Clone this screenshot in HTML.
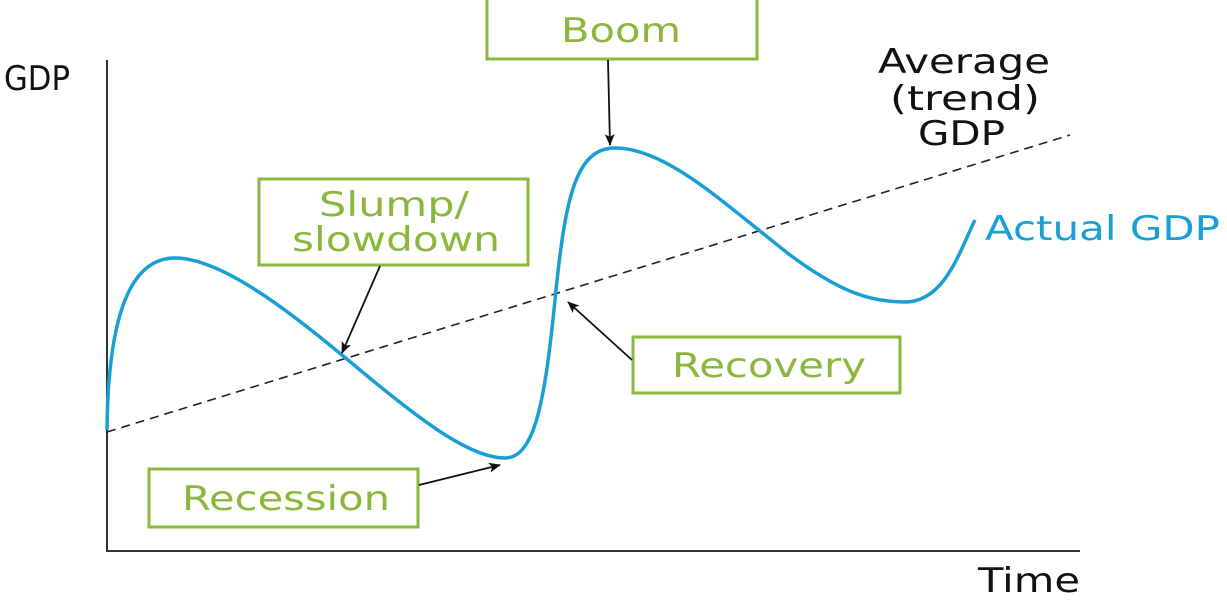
<!DOCTYPE html>
<html><head><style>
html,body{margin:0;padding:0;background:#fff;}
svg{display:block;}
text{font-family:"DejaVu Sans","Liberation Sans",sans-serif;}
</style></head><body>
<svg width="1227" height="601" viewBox="0 0 1227 601">
<defs><marker id="a" markerWidth="12" markerHeight="10" refX="11" refY="5" orient="auto" markerUnits="userSpaceOnUse"><path d="M0,0 L12,5 L0,10 L3,5 Z" fill="#111"/></marker></defs>
<line x1="107" y1="60" x2="107" y2="551" stroke="#333" stroke-width="2"/>
<line x1="106" y1="551" x2="1080" y2="551" stroke="#333" stroke-width="2"/>
<line x1="107" y1="432" x2="1070" y2="135" stroke="#222" stroke-width="1.6" stroke-dasharray="9,6"/>
<path d="M107,430 C108,330 125,258 175,258 C225,258 300,320 360,370 C420,420 470,458 505,458 C535,458 545,400 555,300 C565,200 575,148 615,148 C665,148 720,200 790,255 C840,292 870,302 905,302 C945,302 960,250 975,220" fill="none" stroke="#1a9fd4" stroke-width="3.5"/>
<g font-size="34" fill="#111">
<text x="4" y="90" textLength="66" lengthAdjust="spacingAndGlyphs">GDP</text>
<text x="878" y="73" textLength="172" lengthAdjust="spacingAndGlyphs">Average</text>
<text x="890" y="110" textLength="150" lengthAdjust="spacingAndGlyphs">(trend)</text>
<text x="918" y="145" textLength="87" lengthAdjust="spacingAndGlyphs">GDP</text>
<text x="978" y="592" textLength="102" lengthAdjust="spacingAndGlyphs">Time</text>
</g>
<text x="985" y="240" font-size="34" fill="#1a9fd4" textLength="235" lengthAdjust="spacingAndGlyphs">Actual GDP</text>
<g fill="#fff" stroke="#8ab83c" stroke-width="3">
<rect x="487" y="-2" width="270" height="61"/>
<rect x="259" y="179" width="269" height="86"/>
<rect x="149" y="469" width="269" height="58"/>
<rect x="633" y="337" width="267" height="56"/>
</g>
<g fill="#8ab83c" font-size="34">
<text x="561" y="42" textLength="120" lengthAdjust="spacingAndGlyphs">Boom</text>
<text x="319" y="216" textLength="150" lengthAdjust="spacingAndGlyphs">Slump/</text>
<text x="292" y="251" textLength="208" lengthAdjust="spacingAndGlyphs">slowdown</text>
<text x="182" y="510" textLength="208" lengthAdjust="spacingAndGlyphs">Recession</text>
<text x="672" y="377" textLength="194" lengthAdjust="spacingAndGlyphs">Recovery</text>
</g>
<g stroke="#111" stroke-width="1.8" marker-end="url(#a)">
<line x1="608" y1="60" x2="610" y2="145"/>
<line x1="380" y1="266" x2="342" y2="353"/>
<line x1="419" y1="485" x2="500" y2="465"/>
<line x1="632" y1="360" x2="568" y2="302"/>
</g>
</svg>
</body></html>
